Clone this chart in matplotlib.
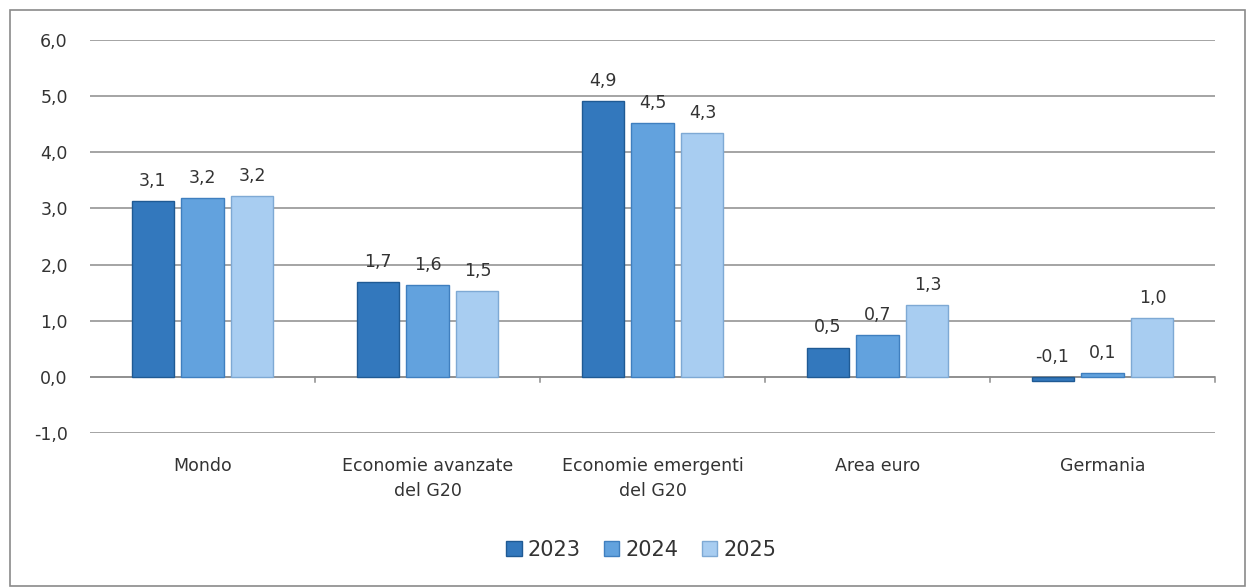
import matplotlib.pyplot as plt
import numpy as np
from matplotlib.patches import Rectangle

categories = ['Mondo', 'Economie avanzate\ndel G20', 'Economie emergenti\ndel G20',
              'Area euro', 'Germania']
years = ['2023', '2024', '2025']
v2023 = [3.13, 1.69, 4.91, 0.52, -0.08]
v2024 = [3.18, 1.64, 4.52, 0.74, 0.07]
v2025 = [3.22, 1.53, 4.34, 1.28, 1.04]
y_ticks = [-1, 0, 1, 2, 3, 4, 5, 6]

colors = ['#3378bd', '#62a2de', '#a8cdf1']
edges = ['#1f5a94', '#3f7fbf', '#7ea9d4']

plt.rcParams['font.family'] = ['DejaVu Sans']

fig = plt.figure(figsize=(12.52, 5.87), dpi=100)
fig.patches.append(Rectangle((10 / 1252, 0.002), 1235 / 1252, 1 - 10 / 587 - 0.002,
                             transform=fig.transFigure, fill=False,
                             edgecolor='#8a8a8a', linewidth=1.2))
ax = fig.add_axes([90 / 1252, 1 - 433 / 587, 1125 / 1252, 393 / 587])

x = np.arange(len(categories))
w = 0.187
step = 0.222
series = [v2023, v2024, v2025]
for i, vals in enumerate(series):
    pos = x + (i - 1) * step
    ax.bar(pos, vals, width=w, color=colors[i], edgecolor=edges[i],
           linewidth=1, label=years[i], zorder=3)
    for p, v in zip(pos, vals):
        ax.text(p, max(v, 0) + 0.2, f'{v:.1f}'.replace('.', ','),
                ha='center', va='bottom', fontsize=12.5, color='#333333', zorder=4)

ax.set_xlim(-0.5, len(categories) - 0.5)
ax.set_ylim(-1, 6)
ax.set_yticks(y_ticks)
ax.set_yticklabels([f'{t:.1f}'.replace('.', ',') for t in y_ticks],
                   fontsize=12.5, color='#333333')
ax.tick_params(axis='y', length=0, pad=16)
ax.grid(axis='y', color='#8c8c8c', linewidth=1.1, zorder=0)
for s in ax.spines.values():
    s.set_visible(False)

# category axis at zero with separator ticks
ax.axhline(0, color='#8c8c8c', linewidth=1.1, zorder=2)
for b in np.arange(0.5, len(categories), 1.0):
    ax.plot([b, b], [0, -0.1], color='#8c8c8c', linewidth=1.1, clip_on=False, zorder=2)
ax.set_xticks([])
for xi, c in zip(x, categories):
    ax.text(xi, -1.42, c, ha='center', va='top', fontsize=12.5, color='#333333',
            linespacing=1.5)

leg = ax.legend(loc='center', bbox_to_anchor=(0.49, -0.298), ncol=3, frameon=False,
                fontsize=15, handlelength=0.75, handleheight=0.75, handletextpad=0.3,
                columnspacing=1.1)
for t in leg.get_texts():
    t.set_color('#333333')

plt.savefig('out.png', dpi=100)
